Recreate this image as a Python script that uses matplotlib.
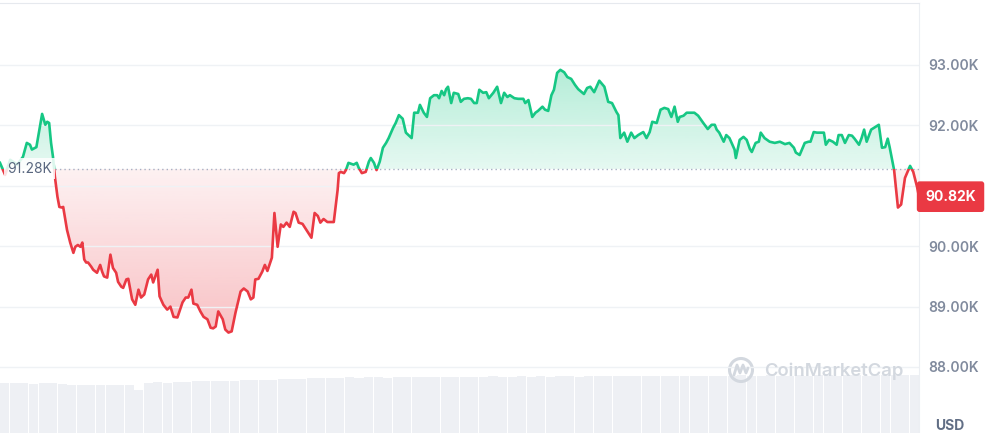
import numpy as np
import matplotlib.pyplot as plt
from matplotlib.patches import Rectangle, PathPatch, Circle
from matplotlib.path import Path
from matplotlib.transforms import Affine2D
from matplotlib.colors import to_rgb

# minutes since window start / price in thousand USD
t = [0, 8, 16, 27, 36, 42, 47, 50, 57, 61, 66, 71, 74, 77, 80, 83, 86,
     90, 93, 97, 99, 105, 110, 115, 118, 122, 126, 129, 132, 135, 138, 143, 146, 152, 157, 160, 163, 168,
     173, 177, 182, 185, 190, 193, 198, 201, 207, 212, 217, 221, 226, 232, 237, 240, 247, 250, 256, 262, 267, 272, 278,
     286, 291, 295, 300, 303, 309, 314, 319, 325, 330, 334, 338, 342, 349, 353, 358, 363,
     369, 377, 382, 388, 393, 397, 400, 405, 411, 415, 419, 426, 430, 435, 440, 444, 449, 454, 460, 463, 468, 474, 482, 488, 493, 498, 502, 507, 513, 523,
     529, 531, 534, 539, 542, 546, 554, 559, 562, 567, 573, 578, 581, 586, 590, 595,
     600, 605, 609, 616, 620, 625, 631, 636, 641, 645, 649, 655, 658, 664, 669, 674, 680, 685, 688, 692, 696, 699, 702,
     707, 711, 718, 722, 727, 733, 738, 743, 747, 751, 757, 762, 766, 773, 779, 785, 790, 795, 799, 806, 812, 820, 823, 828,
     834, 839, 843, 850, 854, 859, 864, 868, 873, 878, 884, 889, 895, 901, 906, 915, 920, 925, 931, 939, 947, 953, 959, 966, 969,
     972, 978, 983, 989, 994, 1000, 1008, 1013, 1018, 1022, 1029, 1035, 1041, 1047, 1052, 1057, 1062, 1065, 1071, 1076, 1080, 1088, 1094, 1102,
     1109, 1115, 1120, 1123, 1127, 1134, 1138, 1143, 1151, 1153, 1159, 1165, 1170, 1175, 1178, 1184, 1189, 1192, 1198, 1206, 1214, 1222, 1230, 1237, 1244, 1247, 1253,
     1261, 1267, 1270, 1275, 1280, 1286, 1291, 1294, 1299, 1305, 1311, 1314, 1319, 1324, 1330, 1335, 1339, 1346, 1350, 1354, 1358, 1365, 1377, 1382, 1387, 1391, 1394, 1401, 1407, 1412, 1418, 1426, 1431, 1437, 1440]
price = [91.38, 91.18, 91.43, 91.35, 91.48, 91.71, 91.68, 91.60, 91.64, 91.88, 92.19, 92.01, 92.06, 92.04, 91.71, 91.48, 91.15,
         90.82, 90.65, 90.64, 90.65, 90.27, 90.06, 89.89, 89.99, 90.02, 89.99, 90.06, 89.78, 89.73, 89.73, 89.66, 89.61, 89.56, 89.69, 89.58, 89.50, 89.48,
         89.86, 89.64, 89.56, 89.41, 89.33, 89.31, 89.45, 89.46, 89.12, 89.03, 89.28, 89.15, 89.20, 89.45, 89.53, 89.40, 89.61, 89.17, 89.03, 88.95, 89.00, 88.83, 88.82,
         89.07, 89.15, 89.15, 89.28, 89.05, 89.03, 88.92, 88.83, 88.79, 88.65, 88.64, 88.67, 88.92, 88.79, 88.62, 88.57, 88.59,
         88.90, 89.25, 89.30, 89.25, 89.12, 89.15, 89.45, 89.46, 89.58, 89.69, 89.59, 89.81, 90.55, 89.99, 90.36, 90.32, 90.39, 90.32, 90.57, 90.55, 90.39, 90.37, 90.24, 90.14, 90.55, 90.50, 90.39, 90.45, 90.40, 90.40,
         90.93, 91.21, 91.23, 91.21, 91.26, 91.38, 91.35, 91.38, 91.30, 91.21, 91.23, 91.40, 91.46, 91.38, 91.26, 91.40,
         91.63, 91.71, 91.79, 91.96, 92.04, 92.17, 92.11, 91.88, 91.83, 91.79, 92.21, 92.21, 92.34, 92.21, 92.14, 92.45, 92.50, 92.50, 92.45, 92.57, 92.50, 92.60, 92.64,
         92.37, 92.54, 92.52, 92.39, 92.44, 92.45, 92.44, 92.37, 92.37, 92.59, 92.54, 92.55, 92.45, 92.54, 92.64, 92.37, 92.54, 92.47, 92.50, 92.45, 92.44, 92.44, 92.37, 92.42,
         92.14, 92.21, 92.24, 92.31, 92.26, 92.24, 92.50, 92.59, 92.87, 92.92, 92.88, 92.80, 92.77, 92.67, 92.60, 92.52, 92.62, 92.64, 92.55, 92.74, 92.64, 92.39, 92.37, 92.22, 92.17,
         91.79, 91.88, 91.73, 91.88, 91.79, 91.84, 91.89, 91.79, 91.89, 92.06, 92.04, 92.26, 92.29, 92.27, 92.14, 92.31, 92.06, 92.14, 92.16, 92.21, 92.21, 92.21, 92.16, 92.04,
         91.94, 92.01, 92.01, 91.93, 91.88, 91.73, 91.84, 91.79, 91.60, 91.46, 91.76, 91.81, 91.76, 91.61, 91.56, 91.71, 91.73, 91.88, 91.79, 91.73, 91.71, 91.73, 91.69, 91.71, 91.63, 91.55, 91.51,
         91.71, 91.73, 91.73, 91.89, 91.88, 91.88, 91.88, 91.68, 91.76, 91.73, 91.68, 91.84, 91.84, 91.71, 91.84, 91.83, 91.78, 91.68, 91.79, 91.93, 91.73, 91.93, 92.01, 91.63, 91.64, 91.78, 91.64, 91.26, 90.64, 90.69, 91.13, 91.33, 91.23, 90.98, 90.82]
open_price = 91.28
last_price = 90.82
yticks = [88, 89, 90, 91, 92, 93]

# volume per 15 minutes (relative units)
vol = [1.00, 1.01, 1.00, 0.99, 1.00, 1.01, 0.99,
       0.96, 0.97, 0.96, 0.97, 0.96, 0.97, 0.96, 0.86,
       1.01, 1.02, 1.01,
       1.03, 1.03, 1.04, 1.04, 1.05, 1.04, 1.05, 1.06, 1.06, 1.07, 1.07, 1.08, 1.08, 1.09,
       1.10, 1.11, 1.10, 1.11, 1.12, 1.11, 1.12, 1.12,
       1.11, 1.12, 1.13, 1.12, 1.12, 1.13, 1.12, 1.13,
       1.13, 1.12, 1.13, 1.14, 1.13, 1.13, 1.14, 1.13,
       1.14, 1.13, 1.14, 1.14, 1.13, 1.14, 1.15, 1.14,
       1.14, 1.15, 1.14, 1.14, 1.15, 1.14, 1.15, 1.15,
       1.14, 1.15, 1.15, 1.14, 1.15, 1.16, 1.15, 1.15,
       1.16, 1.15, 1.15, 1.16, 1.15, 1.16, 1.16, 1.15,
       1.16, 1.16, 1.15, 1.16, 1.16, 1.17, 1.16, 1.16]

green = '#16c784'
red = '#ea3943'

plt.rcParams['font.family'] = ['Inter', 'DejaVu Sans']
W, H = 987, 433
fig = plt.figure(figsize=(W / 100, H / 100), dpi=100)
px = Affine2D().scale(1 / W, -1 / H).translate(0, 1) + fig.transFigure  # pixel coords from top-left

rect = [0, 0, 919 / W, 430 / H]
vax = fig.add_axes(rect)
ax = fig.add_axes(rect, sharex=vax)
ax.set_zorder(2)
ax.patch.set_visible(False)

# volume
vt = np.arange(len(vol)) * 15 + 7.5
vax.bar(vt, vol, width=14.2, color='#eef0f4', edgecolor='none')
vax.set_ylim(0, 8.6)
vax.set_xlim(0, 1440)
vax.axis('off')

tt = np.array(t)
pp = np.array(price)
base = open_price


def grad_fill(edge, col, a_near, a_far, y_far):
    verts = [(tt[0], base)] + list(zip(tt, edge)) + [(tt[-1], base)]
    patch = PathPatch(Path(verts), facecolor='none', edgecolor='none')
    ax.add_patch(patch)
    n = 256
    img = np.zeros((n, 1, 4))
    img[..., :3] = to_rgb(col)
    a = np.linspace(a_near, a_far, n)
    lo, hi = min(base, y_far), max(base, y_far)
    if y_far < base:
        a = a[::-1]
    img[:, 0, 3] = a
    im = ax.imshow(img, extent=[0, 1440, lo, hi], origin='lower', aspect='auto', zorder=1, interpolation='bilinear')
    im.set_clip_path(patch)


grad_fill(np.maximum(pp, base), green, 0.11, 0.33, 93.0)
grad_fill(np.minimum(pp, base), red, 0.07, 0.32, 88.5)

for col, lo, hi in [(green, base, 100), (red, 80, base)]:
    ln, = ax.plot(tt, pp, color=col, lw=1.9, solid_joinstyle='round', zorder=3)
    ln.set_clip_path(Rectangle((0, lo), 1440, hi - lo, transform=ax.transData))

ax.plot([86, 1440], [base, base], color='#a6b0c3', lw=1.0, ls=(0, (1, 2.2)), zorder=2)

ax.set_xlim(0, 1440)
ax.set_ylim(93 - 368 / 60.4, 93 + 62 / 60.4)
ax.set_yticks(yticks)
# the 91K label sits under the last-price badge
ax.set_yticklabels(['' if v == 91 else f'{v:.2f}K' for v in yticks])
ax.yaxis.tick_right()
ax.tick_params(axis='y', length=0, pad=6.5, labelsize=10, labelcolor='#808a9d')
for lab in ax.get_yticklabels():
    lab.set_fontweight('semibold')
ax.set_xticks([])
ax.grid(axis='y', color='#eff2f5', lw=1, zorder=0)
for s in ['left', 'bottom']:
    ax.spines[s].set_visible(False)
ax.spines['top'].set_color('#e6e9ee')
ax.spines['right'].set_color('#eceff3')

# open price label
ax.text(11, base, f'{open_price:.2f}K', ha='left', va='center', fontsize=10, color='#58667e', zorder=5,
        bbox=dict(boxstyle='square,pad=0.25', fc='white', ec='none', alpha=0.85))

# last price badge
ax.annotate(f'{last_price:.2f}K', xy=(1, last_price), xycoords=('axes fraction', 'data'),
            xytext=(22.7, 0), textcoords='offset points', ha='center', va='center',
            fontsize=10, fontweight='bold', color='white', annotation_clip=False, zorder=6,
            bbox=dict(boxstyle='round,pad=0.6,rounding_size=0.2', fc=red, ec='none'))

fig.text(950, 426, 'USD', transform=px, ha='center', va='center', fontsize=10, fontweight='bold', color='#616e85')

# watermark
wm = '#d3d8df'
fig.patches.append(Circle((741, 370), 11.5, transform=px, fill=False, ec=wm, lw=2.2))
fig.lines.append(plt.Line2D([734, 737, 740, 743, 746, 748], [375, 365, 373, 365, 373, 368],
                            transform=px, color=wm, lw=2.0, solid_joinstyle='round', solid_capstyle='round'))
fig.text(764, 371, 'CoinMarketCap', transform=px, ha='left', va='center', fontsize=13.3,
         fontweight='semibold', color=wm)

fig.savefig('out.png', dpi=100)
